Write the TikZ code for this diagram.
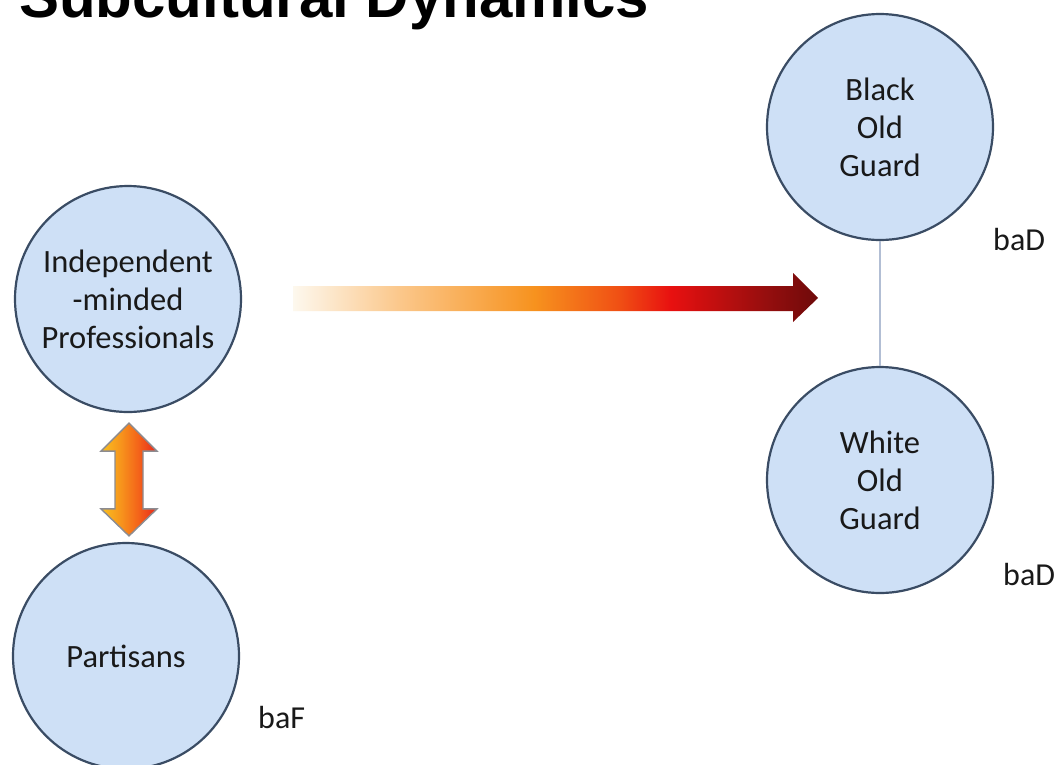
\documentclass[tikz,border=0pt]{standalone}
\usepackage{fontspec}
\setmainfont{Carlito}
\newfontfamily\titlefont{Liberation Sans}
\usetikzlibrary{calc}
\definecolor{circfill}{RGB}{206,224,246}
\definecolor{circdraw}{RGB}{58,76,100}
\definecolor{linkcol}{RGB}{178,190,212}
\definecolor{txt}{RGB}{25,25,25}
\definecolor{arrowgray}{RGB}{140,140,145}
\definecolor{a0}{RGB}{253,248,238}
\definecolor{a1}{RGB}{251,200,140}
\definecolor{a2}{RGB}{247,146,30}
\definecolor{a3}{RGB}{240,80,20}
\definecolor{a4}{RGB}{232,16,16}
\definecolor{a5}{RGB}{150,14,14}
\definecolor{a6}{RGB}{110,10,10}
\definecolor{d0}{RGB}{249,192,32}
\definecolor{d1}{RGB}{247,150,28}
\definecolor{d2}{RGB}{244,100,26}
\definecolor{d3}{RGB}{232,40,28}
\pgfdeclarehorizontalshading{bigarrowshade}{100bp}{color(0bp)=(a0); color(25bp)=(a0); color(35bp)=(a1); color(48bp)=(a2); color(56bp)=(a3); color(61bp)=(a4); color(70bp)=(a5); color(75bp)=(a6); color(100bp)=(a6)}
\pgfdeclarehorizontalshading{dblarrowshade}{100bp}{color(0bp)=(d0); color(25bp)=(d0); color(42bp)=(d1); color(58bp)=(d2); color(75bp)=(d3); color(100bp)=(d3)}
\tikzset{
  circnode/.style={circle, minimum size=226pt, inner sep=0pt, fill=circfill, draw=circdraw, line width=2.2pt, align=center, font=\fontsize{32.5}{38}\selectfont, text=txt},
  tag/.style={anchor=base west, inner sep=0pt, font=\fontsize{32}{38}\selectfont, text=txt},
  link/.style={draw=linkcol, line width=1.6pt},
  blockarrow/.style={draw=arrowgray, line width=1.4pt, line join=miter, shading=dblarrowshade},
}
\begin{document}
\begin{tikzpicture}[x=1pt,y=-1pt]
\useasboundingbox (0,0) rectangle (1055,764);
\clip (0,0) rectangle (1055,764);
\fill[white] (0,0) rectangle (1055,764);
% title (cut off at the top)
\node[anchor=base west, inner sep=0pt, font=\titlefont\bfseries\fontsize{60}{70}\selectfont, text=black] (title) at (19,17) {Subcultural Dynamics};
% circles
\node[circnode] (ind) at (128,299) {Independent\\-minded\\Professionals};
\node[circnode] (par) at (126,656) {Partisans};
\node[circnode] (blk) at (880,127) {Black\\Old\\Guard};
\node[circnode] (wht) at (880,480) {White\\Old\\Guard};
% tags
\node[tag] (tagB) at (993,250) {baD};
\node[tag] (tagW) at (1003,585) {baD};
\node[tag] (tagP) at (258,728) {baF};
% link
\draw[link] (blk.south) -- (wht.north);
% big horizontal arrow
\coordinate (hs) at (293,298);
\coordinate (ht) at (818,298);
\path[shading=bigarrowshade] ($(hs)+(0,-12)$) -- ($(ht)+(-25,-12)$) -- ($(ht)+(-25,-25)$) -- (ht) -- ($(ht)+(-25,24)$) -- ($(ht)+(-25,13)$) -- ($(hs)+(0,13)$) -- cycle;
% double arrow between Independent and Partisans
\coordinate (dt) at ($(ind.south)+(1,10)$);
\coordinate (db) at ($(par.north)+(3,-6)$);
\path[blockarrow] (dt) -- ($(dt)+(28,28)$) -- ($(dt)+(14,28)$) -- ($(db)+(14,-27)$) -- ($(db)+(28,-27)$) -- (db) -- ($(db)+(-28,-27)$) -- ($(db)+(-14,-27)$) -- ($(dt)+(-14,28)$) -- ($(dt)+(-28,28)$) -- cycle;
\end{tikzpicture}
\end{document}
